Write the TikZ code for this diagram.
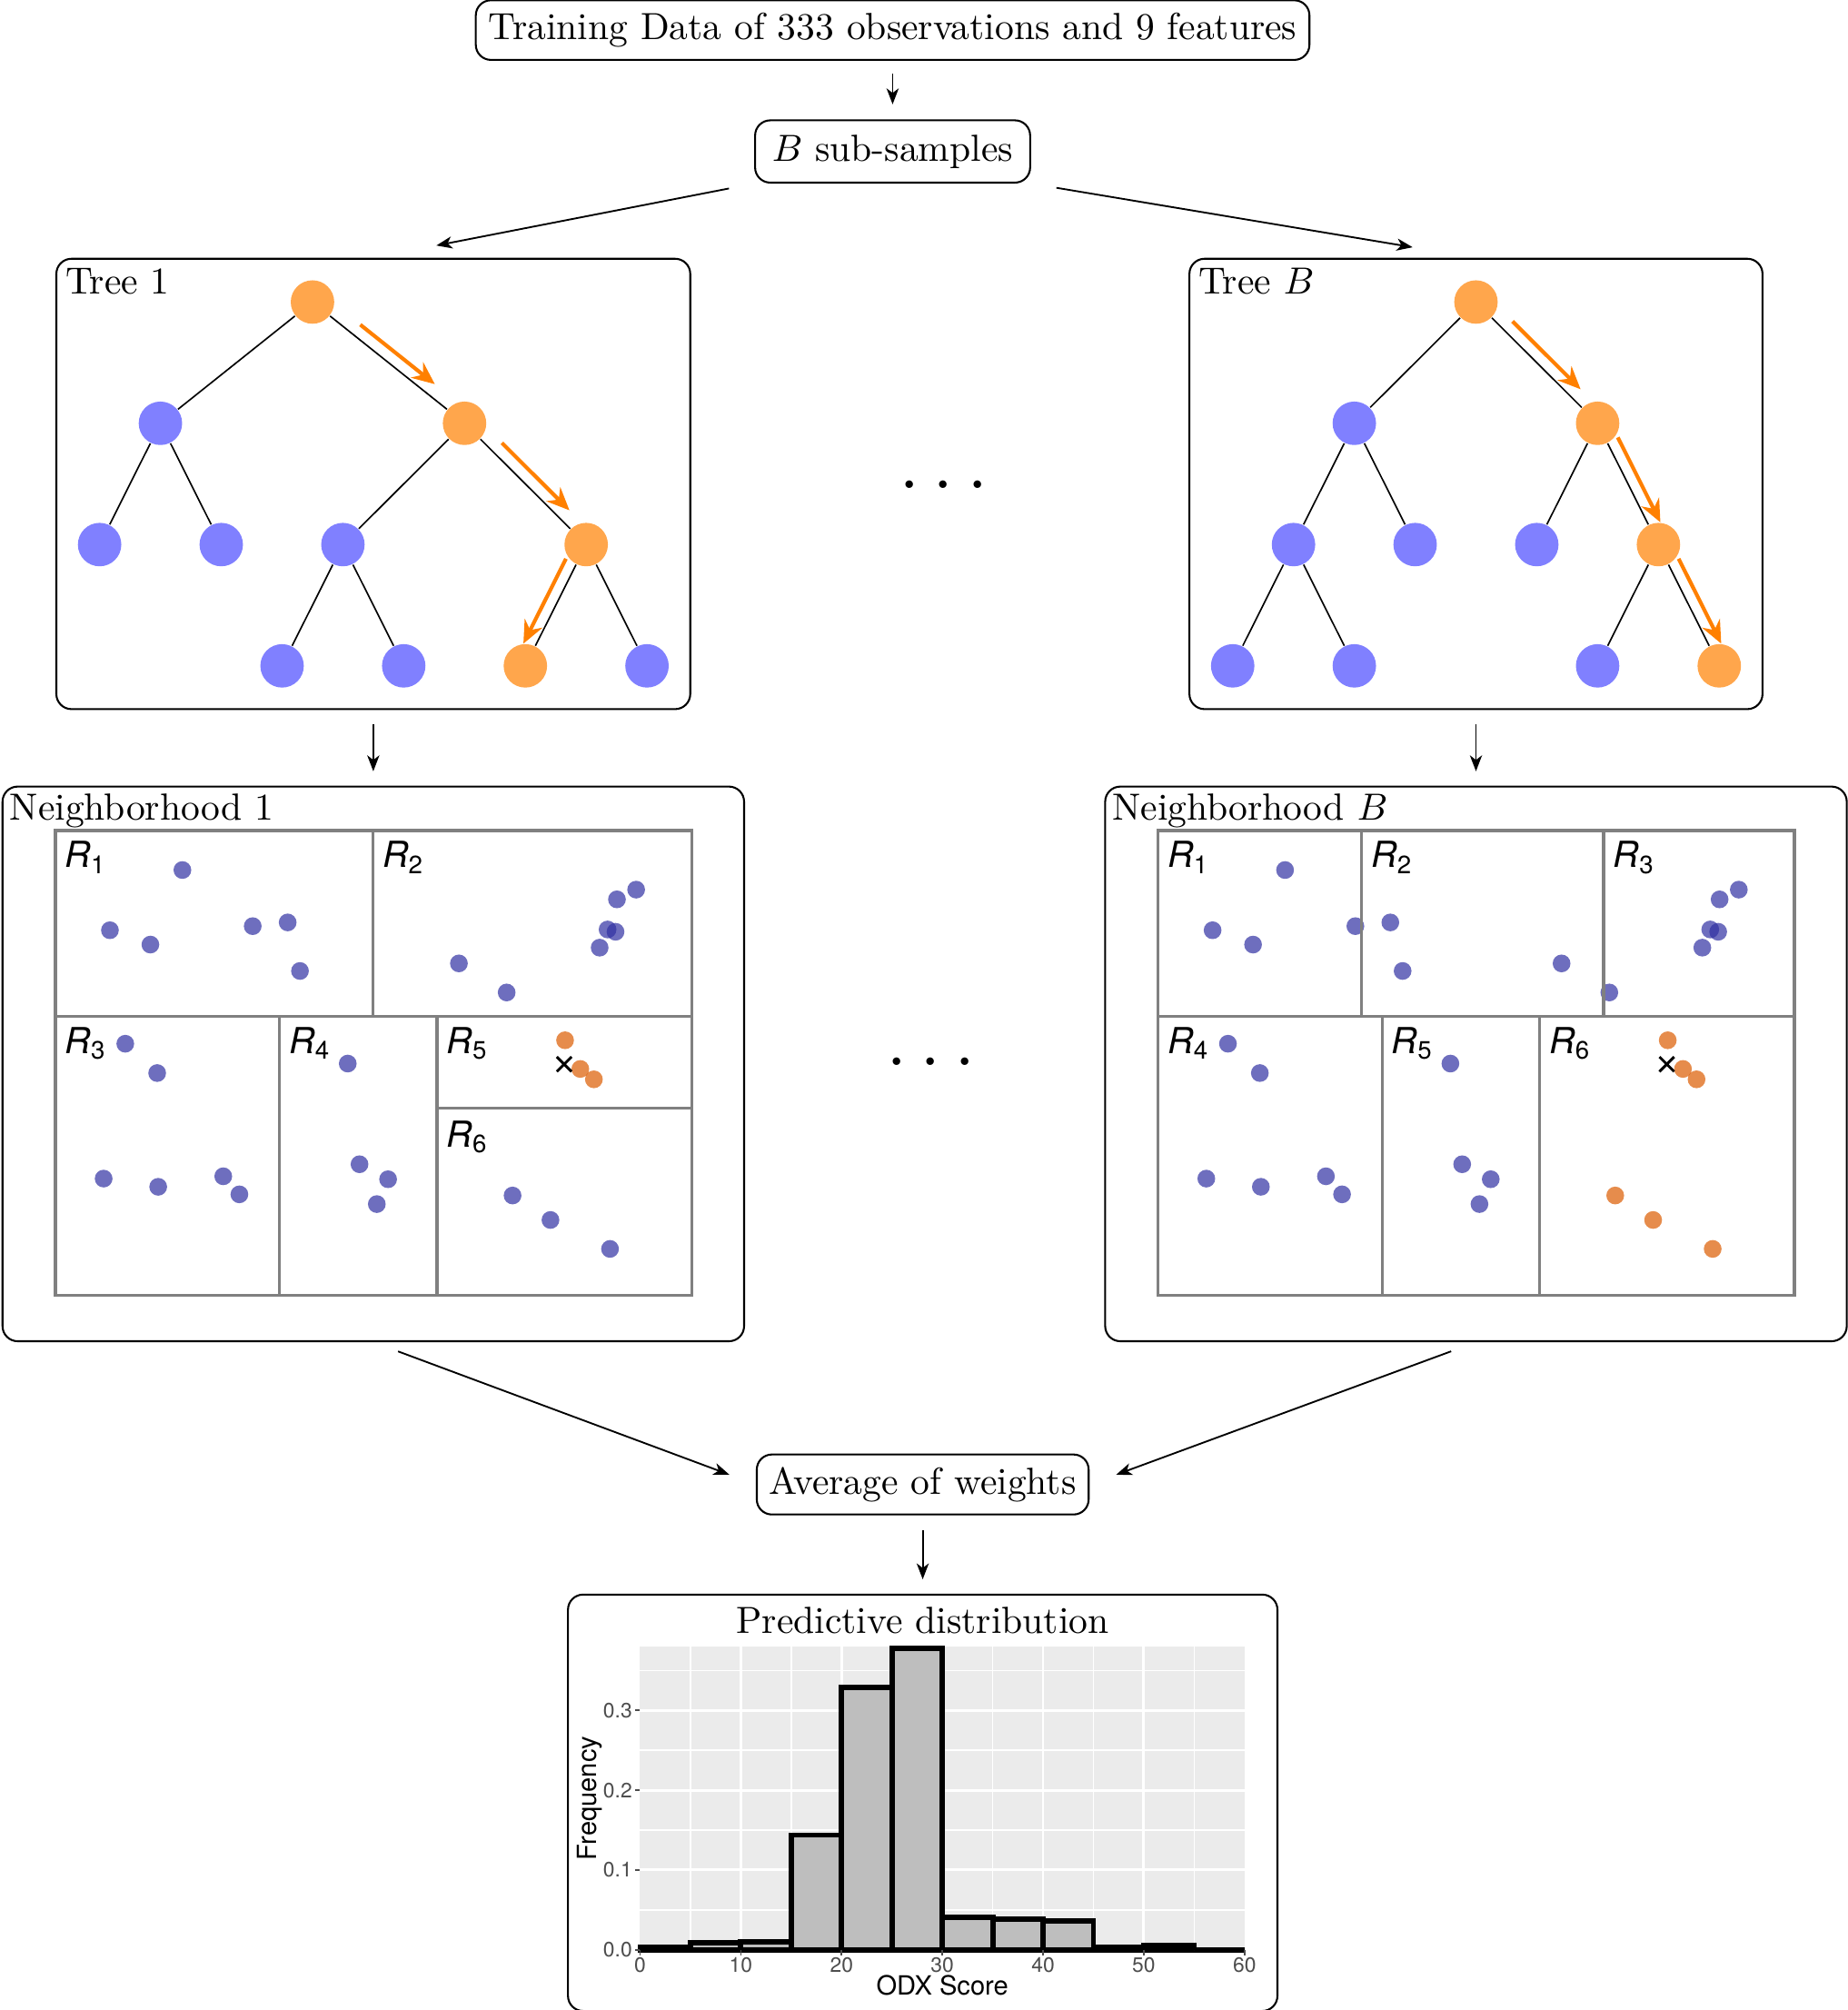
\documentclass[tikz,border=0pt]{standalone}
\usepackage{fontspec}
\setsansfont{TeX Gyre Heros}
\usepackage{tikz}
\usetikzlibrary{arrows,arrows.meta,positioning,calc,fit,shapes.misc}
\definecolor{dotblue}{RGB}{48,48,162}
\definecolor{dotorange}{RGB}{219,91,0}
\definecolor{panelgrey}{RGB}{235,235,235}
\definecolor{barfill}{RGB}{190,190,190}
\definecolor{ticktext}{RGB}{77,77,77}
\tikzstyle{onode}=[circle,fill=orange!70,minimum size=11.5pt,inner sep=0pt]
\tikzstyle{bnode}=[circle,fill=blue!50,minimum size=11.5pt,inner sep=0pt]
\tikzstyle{roundbox}=[draw,rounded corners,line width=0.5pt]
\tikzstyle{treebox}=[roundbox,inner sep=5.5pt]
\tikzstyle{walk}=[-{Stealth[length=6pt,width=5.2pt,inset=2pt]},orange,line width=1pt]
\tikzstyle{flow}=[-{Stealth[length=4.2pt,width=3.2pt,inset=1.2pt]},line width=0.45pt]
\tikzstyle{cellline}=[gray,line width=0.8pt]
\tikzstyle{bdot}=[fill=dotblue,fill opacity=0.7]
\tikzstyle{odot}=[fill=dotorange,fill opacity=0.7]
\tikzstyle{rlabel}=[anchor=north west,inner sep=0pt,font=\fontsize{9.5}{11}\selectfont\sffamily\itshape]
\tikzstyle{xmark}=[cross out,draw,minimum size=3.2pt,inner sep=0pt,line width=0.7pt]
\tikzstyle{histbar}=[draw=black,fill=barfill,line width=1.4pt]
\tikzstyle{gridmaj}=[white,line width=0.7pt]
\tikzstyle{gridmin}=[white,line width=0.35pt]
\tikzstyle{axtick}=[ticktext,line width=0.4pt]
\tikzstyle{xlab}=[anchor=north,inner sep=0.5pt,yshift=-1.4pt,text=ticktext,font=\fontsize{5.5}{6}\selectfont\sffamily]
\tikzstyle{ylab}=[anchor=east,inner sep=0.5pt,xshift=-1.4pt,text=ticktext,font=\fontsize{5.5}{6}\selectfont\sffamily]
\tikzstyle{axtitle}=[inner sep=0pt,font=\fontsize{7}{8}\selectfont\sffamily]

% points of the partition plots (x right, y down from the top left corner)
\newcommand{\ptsmain}{99.2/30.9, 42.6/77.9, 74.2/89.1, 154.1/74.7, 181.4/71.8, 191/109.7,
  315.1/103.8, 352.4/126.5, 425/91.5, 431.2/77.3, 437.4/79.1, 438.5/53.8, 453.5/46.2,
  54.6/166.5, 79.5/189.4, 37.7/271.8, 80.3/278.2, 131.1/270, 143.7/284.1,
  228.3/182, 237.5/260.6, 259.8/272.3, 251/291.7}
\newcommand{\ptsfive}{398/163.8, 409.9/186.2, 420.5/194.3}
\newcommand{\ptssix}{357/285, 386.6/304.1, 433.1/326.7}

\begin{document}
\begin{tikzpicture}[x=0.339pt,y=0.339pt,level distance=32.1pt,level/.style={sibling distance=32.2pt}]
    \useasboundingbox (0,0) rectangle (1443,-1569.3);
    \node [roundbox] (data) at (697,-23.5) {Training Data of 333 observations and 9 features};
    \node [roundbox, inner xsep=4.5pt, inner ysep=3.8pt, below=15.5pt of data] (sub) {$B$ sub-samples};

    % tree 1
    \node [onode] (ta) at (244,-235.8) {}
      child [sibling distance=80.5pt] {
        node [bnode] {}
        child {node [bnode] {}}
        child {node [bnode] {}}
      }
      child [sibling distance=80.5pt] {
        node [onode] {}
        child [sibling distance=64.4pt] {
          node [bnode] {}
          child {node [bnode] {}}
          child {node [bnode] {}}
        }
        child [sibling distance=64.4pt] {
          node [onode] {}
          child {node [onode] {}}
          child {node [bnode] {}}
        }
      };
    \node [treebox, fit=(ta) (ta-1-1) (ta-2-2-2)] (tree1) {};
    \node [anchor=north west, inner sep=2.5pt] at (tree1.north west) {Tree 1};
    \draw [walk] ($(ta)!0.265!(ta-2)!3.2pt!90:(ta-2)$) -- ($(ta)!0.755!(ta-2)!3.2pt!90:(ta-2)$);
    \draw [walk] ($(ta-2)!0.235!(ta-2-2)!3.3pt!90:(ta-2-2)$) -- ($(ta-2)!0.79!(ta-2-2)!3.3pt!90:(ta-2-2)$);
    \draw [walk] ($(ta-2-2)!0.16!(ta-2-2-1)!3.1pt!-90:(ta-2-2-1)$) -- ($(ta-2-2)!0.86!(ta-2-2-1)!3.1pt!-90:(ta-2-2-1)$);

    % tree B
    \node [onode] (tb) at (1152.5,-235.8) {}
      child [sibling distance=64.4pt] {
        node [bnode] {}
        child {
          node [bnode] {}
          child {node [bnode] {}}
          child {node [bnode] {}}
        }
        child {node [bnode] {}}
      }
      child [sibling distance=64.4pt] {
        node [onode] {}
        child {node [bnode] {}}
        child {
          node [onode] {}
          child {node [bnode] {}}
          child {node [onode] {}}
        }
      };
    \node [treebox, fit=(tb) (tb-1-1-1) (tb-2-2-2)] (treeB) {};
    \node [anchor=north west, inner sep=2.5pt] at (treeB.north west) {Tree $B$};
    \draw [walk] ($(tb)!0.23!(tb-2)!3.2pt!90:(tb-2)$) -- ($(tb)!0.79!(tb-2)!3.2pt!90:(tb-2)$);
    \draw [walk] ($(tb-2)!0.16!(tb-2-2)!3.1pt!90:(tb-2-2)$) -- ($(tb-2)!0.86!(tb-2-2)!3.1pt!90:(tb-2-2)$);
    \draw [walk] ($(tb-2-2)!0.16!(tb-2-2-2)!3.1pt!90:(tb-2-2-2)$) -- ($(tb-2-2)!0.86!(tb-2-2-2)!3.1pt!90:(tb-2-2-2)$);

    \node (gap1) at (737,-378) {\huge$\ldots$};

    % neighborhoods
    \node [roundbox, minimum width=196.3pt, minimum height=146.8pt, below=20pt of tree1] (nb1) {};
    \node [anchor=north west, inner sep=2pt] at (nb1.north west) {Neighborhood 1};
    \node [roundbox, minimum width=196.3pt, minimum height=146.8pt, below=20pt of treeB] (nbB) {};
    \node [anchor=north west, inner sep=2pt] at (nbB.north west) {Neighborhood $B$};

    \begin{scope}[shift={($(nb1.north west)+(42,-35)$)}]
      \foreach \px/\py in \ptsmain {\fill [bdot] (\px,-\py) circle (2.35pt);}
      \foreach \px/\py in \ptssix {\fill [bdot] (\px,-\py) circle (2.35pt);}
      \foreach \px/\py in \ptsfive {\fill [odot] (\px,-\py) circle (2.35pt);}
      \node [xmark] at (397.3,-182.5) {};
      \draw [cellline] (0,0) rectangle (497,-363);
      \draw [cellline] (0,-145) -- (497,-145);
      \draw [cellline] (248,0) -- (248,-145);
      \draw [cellline] (175,-145) -- (175,-363);
      \draw [cellline] (298,-145) -- (298,-363);
      \draw [cellline] (298,-217) -- (497,-217);
      \node [rlabel] at (7,-8) {R\textsubscript{\upshape 1}};
      \node [rlabel] at (255,-8) {R\textsubscript{\upshape 2}};
      \node [rlabel] at (7,-153) {R\textsubscript{\upshape 3}};
      \node [rlabel] at (182,-153) {R\textsubscript{\upshape 4}};
      \node [rlabel] at (305,-153) {R\textsubscript{\upshape 5}};
      \node [rlabel] at (305,-226) {R\textsubscript{\upshape 6}};
    \end{scope}

    \begin{scope}[shift={($(nbB.north west)+(42,-35)$)}]
      \foreach \px/\py in \ptsmain {\fill [bdot] (\px,-\py) circle (2.35pt);}
      \foreach \px/\py in \ptssix {\fill [odot] (\px,-\py) circle (2.35pt);}
      \foreach \px/\py in \ptsfive {\fill [odot] (\px,-\py) circle (2.35pt);}
      \node [xmark] at (397.3,-182.5) {};
      \draw [cellline] (0,0) rectangle (497,-363);
      \draw [cellline] (0,-145) -- (497,-145);
      \draw [cellline] (159,0) -- (159,-145);
      \draw [cellline] (348,0) -- (348,-145);
      \draw [cellline] (175,-145) -- (175,-363);
      \draw [cellline] (298,-145) -- (298,-363);
      \node [rlabel] at (7,-8) {R\textsubscript{\upshape 1}};
      \node [rlabel] at (166,-8) {R\textsubscript{\upshape 2}};
      \node [rlabel] at (355,-8) {R\textsubscript{\upshape 3}};
      \node [rlabel] at (7,-153) {R\textsubscript{\upshape 4}};
      \node [rlabel] at (182,-153) {R\textsubscript{\upshape 5}};
      \node [rlabel] at (305,-153) {R\textsubscript{\upshape 6}};
    \end{scope}

    \node (gap2) at (727,-829) {\huge$\ldots$};

    \node [roundbox] (avg) at (720.5,-1159) {Average of weights};
    \node [roundbox, minimum width=187.8pt, minimum height=110.2pt, below=20.7pt of avg] (pred) {};
    \node [anchor=north] (predtitle) at (pred.north) {Predictive distribution};

    % histogram
    \begin{scope}[shift={($(pred.south west)+(57,48.5)$)}, x=2.667pt, y=211.2pt]
      \fill [panelgrey] (0,0) rectangle (60,0.38);
      \foreach \v in {5,15,...,55} {\draw [gridmin] (\v,0) -- (\v,0.38);}
      \foreach \v in {0.05,0.15,0.25,0.35} {\draw [gridmin] (0,\v) -- (60,\v);}
      \foreach \v in {10,20,...,50} {\draw [gridmaj] (\v,0) -- (\v,0.38);}
      \foreach \v in {0.1,0.2,0.3} {\draw [gridmaj] (0,\v) -- (60,\v);}
      \foreach \a/\h in {0/0.0034, 5/0.0084, 10/0.0103, 15/0.1437, 20/0.3286, 25/0.378,
          30/0.0408, 35/0.038, 40/0.0358, 45/0.0027, 50/0.0053, 55/0}
        {\filldraw [histbar] (\a,0) rectangle ++(5,\h);}
      \foreach \v in {0,10,...,60} {
        \draw [axtick] (\v,0) -- ++(0pt,-1.4pt);
        \node [xlab] at (\v,0) {\v};
      }
      \foreach \v in {0.0,0.1,0.2,0.3} {
        \draw [axtick] (0,\v) -- ++(-1.4pt,0pt);
        \node [ylab] at (0,\v) {\v};
      }
      \node [axtitle, rotate=90] (ylabel) at (-5,0.19) {Frequency};
      \node [axtitle] (xlabel) at (30,-0.045) {ODX Score};
    \end{scope}

    % connectors
    \draw [flow, shorten <=3.4pt, shorten >=4pt] (data) -- (sub);
    \draw [flow, shorten <=6.8pt, shorten >=17pt] (sub.south west) -- (tree1.north);
    \draw [flow, shorten <=6.8pt, shorten >=17pt] (sub.south east) -- (treeB.north);
    \draw [flow, shorten <=3.8pt, shorten >=3.8pt] (tree1) -- (nb1);
    \draw [flow, shorten <=3.8pt, shorten >=3.8pt] (treeB) -- (nbB);
    \draw [flow, shorten <=7pt, shorten >=7.5pt] (nb1.south) -- (avg.west);
    \draw [flow, shorten <=7pt, shorten >=7.5pt] (nbB.south) -- (avg.east);
    \draw [flow, shorten <=3.8pt, shorten >=3.8pt] (avg) -- (pred);
\end{tikzpicture}
\end{document}
